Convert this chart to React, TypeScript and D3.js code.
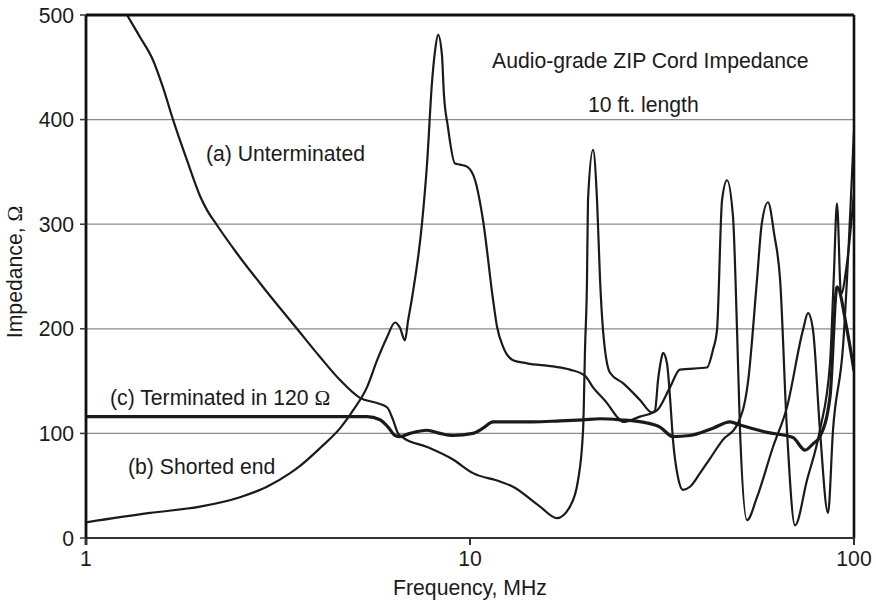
import React from 'react';
import * as d3 from 'd3';

// (a) Unterminated
const freqA = [1.08, 1.18, 1.279, 1.382, 1.494, 1.586, 1.685, 1.833, 1.981, 2.07, 2.194, 2.474, 2.89, 3.544, 4.069, 4.587, 5.17, 5.727, 6.081, 6.304, 6.495, 6.692, 7.73, 9.03, 10.18, 11.97, 12.94, 15.22, 16.85, 18.21, 19.11, 19.7, 19.94, 20.17, 20.29, 20.91, 21.42, 21.81, 22.2, 23.15, 25.03, 27.71, 29.79, 30.33, 30.88, 31.44, 31.82, 32.58, 33.17, 33.77, 34.8, 35.86, 37.4, 39.72, 42.17, 45.6, 49.59, 53.0, 55.9, 57.5, 59.7, 62.0, 64.2, 66.9, 70.2, 75.4, 81.5, 86.6, 88.6, 90.3, 92.5, 95.9, 100];
const impA = [565, 522, 500, 479, 457, 431, 400, 361, 327, 313, 299, 272, 240, 200, 173, 151, 134, 129, 125, 113, 100, 96, 87, 75, 62, 54, 49, 30, 19, 30, 55, 103, 183, 247, 323, 371, 323, 247, 199, 158, 148, 132, 120, 122, 151, 170, 177, 167, 135, 94, 58, 46, 49, 62, 76, 94, 108, 150, 247, 300, 321, 290, 247, 103, 12, 55, 103, 167, 250, 320, 233, 263, 330];

// (b) Shorted end
const freqB = [1, 1.468, 1.981, 2.518, 2.96, 3.4, 3.61, 4.07, 4.59, 4.96, 5.39, 5.73, 6.08, 6.38, 6.57, 6.77, 6.9, 7.06, 7.5, 7.73, 7.96, 8.11, 8.26, 8.45, 8.55, 8.76, 9.14, 9.42, 9.82, 10.31, 10.81, 11.48, 11.76, 12.19, 12.94, 14.07, 16.45, 18.21, 19.94, 20.91, 22.74, 24.14, 25.03, 27.71, 30.69, 33.17, 35.22, 41.41, 42.93, 43.98, 45.33, 46.7, 48.41, 49.59, 50.48, 52.65, 55.9, 61.52, 66.9, 73.66, 75.9, 78.2, 81.54, 85.57, 88.17, 93.62, 100];
const impB = [15, 24, 30, 39, 49, 62, 69, 86, 105, 122, 144, 170, 192, 206, 201, 189, 208, 229, 301, 358, 435, 466, 481, 462, 425, 393, 358, 357, 355, 342, 304, 228, 202, 183, 170, 167, 164, 161, 155, 144, 129, 116, 111, 116, 122, 144, 161, 163, 180, 199, 323, 342, 307, 199, 103, 17, 39, 87, 125, 199, 215, 199, 103, 24, 103, 183, 390];

// (c) Terminated in 120 Ω
const freqC = [1, 3.61, 5.39, 5.83, 6.12, 6.38, 6.57, 6.98, 7.73, 8.35, 9.03, 10.18, 10.81, 11.48, 14.59, 17.16, 19.7, 21.81, 24.58, 28.91, 31.25, 33.77, 37.4, 42.93, 47.54, 50.48, 59.35, 69.36, 74.55, 78.2, 81.54, 86.6, 90.31, 95.9, 100];
const impC = [116, 116, 116, 113, 106, 98, 97, 100, 103, 100, 98, 100, 105, 111, 111, 112, 113, 114, 113, 110, 106, 97, 98, 105, 111, 108, 101, 96, 84, 90, 97, 135, 240, 199, 160];

const xTicks = [1, 10, 100];
const xTickLabels = ['1', '10', '100'];
const yTicks = [0, 100, 200, 300, 400, 500];
const yGrid = [100, 200, 300, 400];

const FONT = '"Liberation Sans", Arial, Helvetica, sans-serif';
const SERIF = '"Liberation Serif", "Times New Roman", serif';
const FS = 21.2;

export default function App() {
  const W = 876, H = 604;
  const L = 86, R = 854, T = 15, B = 538;
  const x = d3.scaleLog().domain([1, 100]).range([L, R]);
  const y = d3.scaleLinear().domain([0, 500]).range([B, T]);
  const line = d3.line<[number, number]>()
    .x(d => x(d[0]))
    .y(d => y(d[1]))
    .curve(d3.curveMonotoneX);
  const zip = (f: number[], v: number[]) => f.map((ff, i) => [ff, v[i]] as [number, number]);
  const pathA = line(zip(freqA, impA)) || '';
  const pathB = line(zip(freqB, impB)) || '';
  const pathC = line(zip(freqC, impC)) || '';

  return (
    <svg width={W} height={H} style={{ position: 'absolute', left: 0, top: 0, background: '#fff' }} fontFamily={FONT}>
      <defs>
        <clipPath id="plot">
          <rect x={L} y={T} width={R - L} height={B - T} />
        </clipPath>
      </defs>
      <rect x={0} y={0} width={W} height={H} fill="#fff" />
      {yGrid.map(v => (
        <line key={v} x1={L} x2={R} y1={y(v)} y2={y(v)} stroke="#8a8a8a" strokeWidth={1.3} />
      ))}
      <g clipPath="url(#plot)" fill="none" strokeLinejoin="round" strokeLinecap="round">
        <path d={pathC} stroke="#1a1a1a" strokeWidth={3.2} />
        <path d={pathA} stroke="#1a1a1a" strokeWidth={2.2} />
        <path d={pathB} stroke="#1a1a1a" strokeWidth={2.2} />
      </g>
      {/* frame */}
      <line x1={L} x2={R} y1={T} y2={T} stroke="#111" strokeWidth={2.8} />
      <line x1={R} x2={R} y1={T} y2={B} stroke="#111" strokeWidth={2.6} />
      <line x1={L} x2={R} y1={B} y2={B} stroke="#333" strokeWidth={2.2} />
      <line x1={L} x2={L} y1={T} y2={B + 7} stroke="#111" strokeWidth={2.8} />
      {/* y ticks */}
      {yTicks.map(v => (
        <g key={v}>
          <line x1={L - 6} x2={L} y1={y(v)} y2={y(v)} stroke="#333" strokeWidth={1.5} />
          <text x={74} y={y(v)} dy="0.36em" textAnchor="end" fontSize={FS} fill="#1a1a1a">{v}</text>
        </g>
      ))}
      {/* x ticks */}
      {xTicks.map((f, i) => (
        <g key={f}>
          <line x1={x(f)} x2={x(f)} y1={B} y2={B + 7} stroke="#333" strokeWidth={2} />
          <text x={x(f)} y={566} textAnchor="middle" fontSize={FS} fill="#1a1a1a">{xTickLabels[i]}</text>
        </g>
      ))}
      <text x={470} y={595} textAnchor="middle" fontSize={FS} fill="#1a1a1a">Frequency, MHz</text>
      <text transform="translate(22,272) rotate(-90)" textAnchor="middle" fontSize={FS} fill="#1a1a1a">
        Impedance, <tspan fontFamily={SERIF}>Ω</tspan>
      </text>
      {/* annotations */}
      <text x={492} y={68} fontSize={FS} fill="#1a1a1a">Audio-grade ZIP Cord Impedance</text>
      <text x={588} y={112} fontSize={FS} fill="#1a1a1a">10 ft. length</text>
      <text x={206} y={161} fontSize={FS} fill="#1a1a1a">(a) Unterminated</text>
      <text x={110} y={405} fontSize={FS} fill="#1a1a1a">(c) Terminated in 120 <tspan fontFamily={SERIF}>Ω</tspan></text>
      <text x={128} y={474} fontSize={FS} fill="#1a1a1a">(b) Shorted end</text>
    </svg>
  );
}
